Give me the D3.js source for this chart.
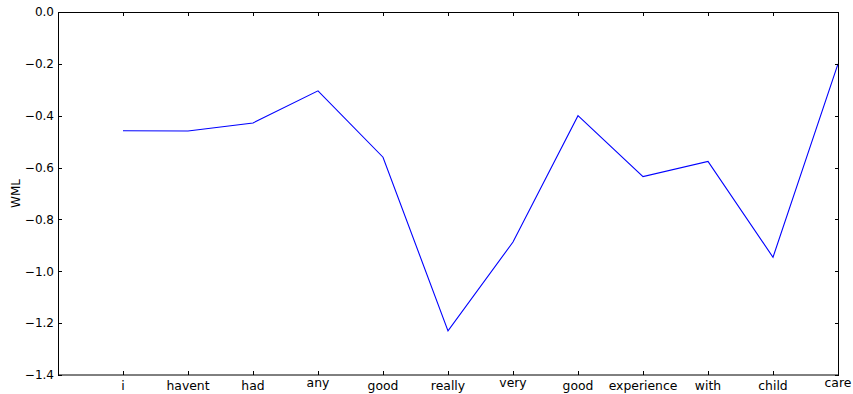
<!DOCTYPE html>
<html><head><meta charset="utf-8">
<script src="https://cdn.jsdelivr.net/npm/d3@7"></script>
<style>body{margin:0;background:#fff}svg{display:block}text{font-family:"DejaVu Sans",sans-serif}</style>
</head><body><svg id="c" width="853" height="394"></svg>
<script>
const words = ["i","havent","had","any","good","really","very","good","experience","with","child","care"];
const wml = [-0.458,-0.459,-0.428,-0.304,-0.560,-1.230,-0.887,-0.400,-0.635,-0.576,-0.946,-0.200];
const yTicks = [0.0,-0.2,-0.4,-0.6,-0.8,-1.0,-1.2,-1.4];
const yLabel = "WML";

const svg = d3.select("#c");
const L = 58, R = 838, T = 12, B = 375;
const x = d3.scaleLinear().domain([-1, words.length - 1]).range([L, R]);
const y = d3.scaleLinear().domain([-1.4, 0]).range([B, T]);
const idx = d3.range(words.length);
const fmt = v => (v === 0 ? "0.0" : d3.format(".1f")(v).replace("-", "\u2212"));

// line
svg.append("path")
  .datum(idx)
  .attr("fill", "none").attr("stroke", "#0000ff").attr("stroke-width", 1.1)
  .attr("d", d3.line().x(i => x(i)).y(i => y(wml[i])));

// frame
const g = svg.append("g").attr("stroke", "#000").attr("fill", "none");
g.append("line").attr("x1", L + 0.5).attr("x2", L + 0.5).attr("y1", T).attr("y2", B).attr("stroke-width", 1);
g.append("line").attr("x1", R + 0.5).attr("x2", R + 0.5).attr("y1", T).attr("y2", B).attr("stroke-width", 1);
g.append("line").attr("x1", L).attr("x2", R + 1).attr("y1", T + 0.5).attr("y2", T + 0.5).attr("stroke-width", 1);
g.append("line").attr("x1", L).attr("x2", R + 1).attr("y1", B).attr("y2", B).attr("stroke-width", 1);

// inward ticks
const tl = 4;
idx.forEach(i => {
  const xx = Math.round(x(i)) + 0.5;
  g.append("line").attr("x1", xx).attr("x2", xx).attr("y1", B).attr("y2", B - tl);
  g.append("line").attr("x1", xx).attr("x2", xx).attr("y1", T).attr("y2", T + tl);
});
yTicks.forEach(v => {
  const yy = Math.round(y(v)) + 0.5;
  g.append("line").attr("x1", L).attr("x2", L + tl).attr("y1", yy).attr("y2", yy);
  g.append("line").attr("x1", R + 1).attr("x2", R + 1 - tl).attr("y1", yy).attr("y2", yy);
});

// x labels
const tall = /[A-Zbdfhiklt]/;
svg.append("g").selectAll("text").data(idx).join("text")
  .attr("x", i => x(i))
  .attr("y", i => tall.test(words[i]) ? 389.5 : 386.5)
  .attr("text-anchor", "middle").attr("font-size", 12.4).attr("fill", "#000")
  .text(i => words[i]);

// y labels
svg.append("g").selectAll("text").data(yTicks).join("text")
  .attr("x", L - 4).attr("y", v => y(v))
  .attr("dy", "0.36em")
  .attr("text-anchor", "end").attr("font-size", 12).attr("fill", "#000")
  .text(fmt);

svg.append("text")
  .attr("transform", `translate(20,${(T + B) / 2}) rotate(-90)`)
  .attr("text-anchor", "middle").attr("font-size", 12).attr("fill", "#000")
  .text(yLabel);
</script></body></html>
